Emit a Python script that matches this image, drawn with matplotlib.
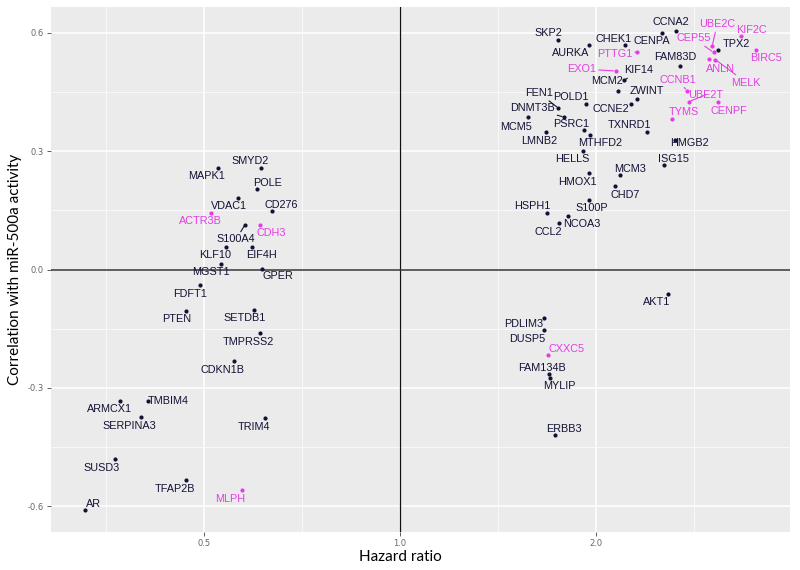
import numpy as np
import matplotlib
matplotlib.use("Agg")
import matplotlib.pyplot as plt
from matplotlib.ticker import FixedLocator, NullFormatter

# gene, hazard ratio, correlation with miR-500a activity
genes = ["SMYD2", "MAPK1", "POLE", "VDAC1", "CD276", "ACTR3B", "S100A4", "CDH3",
         "KLF10", "EIF4H", "MGST1", "GPER", "FDFT1", "PTEN", "SETDB1", "TMPRSS2",
         "CDKN1B", "ARMCX1", "TMBIM4", "SERPINA3", "TRIM4", "SUSD3", "TFAP2B", "MLPH", "AR",
         "SKP2", "AURKA", "CHEK1", "CENPA", "CCNA2", "PTTG1", "FAM83D", "EXO1", "KIF14",
         "MCM2", "ZWINT", "CCNE2", "POLD1", "FEN1", "DNMT3B", "MCM5", "PSRC1", "MTHFD2",
         "LMNB2", "TXNRD1", "HMGB2", "TYMS", "UBE2T", "CCNB1", "CENPF", "UBE2C", "CEP55",
         "TPX2", "ANLN", "MELK", "KIF2C", "BIRC5",
         "HELLS", "ISG15", "MCM3", "HMOX1", "CHD7", "S100P", "HSPH1", "NCOA3", "CCL2",
         "AKT1", "PDLIM3", "DUSP5", "CXXC5", "FAM134B", "MYLIP", "ERBB3"]
hazard = [0.612, 0.525, 0.603, 0.564, 0.635, 0.513, 0.578, 0.610,
          0.541, 0.592, 0.531, 0.613, 0.493, 0.469, 0.597, 0.610,
          0.555, 0.372, 0.410, 0.400, 0.620, 0.365, 0.469, 0.571, 0.328,
          1.749, 1.947, 2.218, 2.526, 2.651, 2.315, 2.689, 2.142, 2.208,
          2.164, 2.310, 2.264, 1.928, 1.749, 1.786, 1.571, 1.917, 1.960,
          1.676, 2.398, 2.645, 2.614, 2.776, 2.757, 3.076, 3.014, 3.030,
          3.082, 2.983, 3.047, 3.343, 3.522,
          1.912, 2.541, 2.179, 1.947, 2.139, 1.953, 1.680, 1.811, 1.757,
          2.580, 1.662, 1.665, 1.690, 1.692, 1.698, 1.730]
corr = [0.257, 0.258, 0.204, 0.180, 0.148, 0.143, 0.114, 0.113,
        0.058, 0.058, 0.013, 0.001, -0.040, -0.106, -0.103, -0.161,
        -0.232, -0.332, -0.332, -0.373, -0.376, -0.480, -0.532, -0.559, -0.609,
        0.581, 0.570, 0.570, 0.600, 0.603, 0.551, 0.516, 0.503, 0.479,
        0.453, 0.432, 0.419, 0.420, 0.409, 0.386, 0.387, 0.353, 0.341,
        0.348, 0.348, 0.328, 0.381, 0.425, 0.453, 0.425, 0.565, 0.550,
        0.557, 0.533, 0.532, 0.592, 0.557,
        0.299, 0.264, 0.240, 0.245, 0.212, 0.175, 0.144, 0.136, 0.118,
        -0.063, -0.124, -0.154, -0.216, -0.264, -0.275, -0.420]
highlighted = ["ACTR3B", "CDH3", "MLPH", "CXXC5", "EXO1", "PTTG1", "UBE2C", "KIF2C",
               "CEP55", "ANLN", "BIRC5", "MELK", "CCNB1", "UBE2T", "TYMS", "CENPF"]

# label placement (offset from the point in pixels, screen x right / y down)
offsets = {
    "SMYD2": (-11, -7), "MAPK1": (-11, 8), "POLE": (11, -6), "VDAC1": (-9, 8),
    "CD276": (10, -6), "ACTR3B": (-11, 8), "S100A4": (-9, 15), "CDH3": (11, 8),
    "KLF10": (-11, 8), "EIF4H": (10, 8), "MGST1": (-10, 8), "GPER": (16, 7),
    "FDFT1": (-10, 9), "PTEN": (-9, 8), "SETDB1": (-10, 8), "TMPRSS2": (-12, 9),
    "CDKN1B": (-11, 9), "ARMCX1": (-11, 8), "TMBIM4": (20, 0), "SERPINA3": (-12, 9),
    "TRIM4": (-11, 9), "SUSD3": (-13, 9), "TFAP2B": (-11, 10), "MLPH": (-11, 9),
    "AR": (9, -6),
    "SKP2": (-10, -7), "AURKA": (-18, 8), "CHEK1": (-12, -6), "CENPA": (-10, 8),
    "CCNA2": (-5, -9), "PTTG1": (-23, 2), "FAM83D": (-5, -9), "EXO1": (-34, -2),
    "KIF14": (15, -10), "MCM2": (-11, -10), "ZWINT": (10, -8), "CCNE2": (-20, 5),
    "POLD1": (-15, -7), "FEN1": (-19, -15), "DNMT3B": (-32, -9), "MCM5": (-12, 10),
    "PSRC1": (-13, -6), "MTHFD2": (10, 8), "LMNB2": (-7, 9), "TXNRD1": (-18, -7),
    "HMGB2": (14, 3), "TYMS": (12, -7), "UBE2T": (17, -7), "CCNB1": (-9, -11),
    "CENPF": (11, 9), "UBE2C": (5, -22), "CEP55": (-20, -14), "TPX2": (18, -6),
    "ANLN": (11, 10), "MELK": (31, 23), "KIF2C": (10, -6), "BIRC5": (10, 8),
    "HELLS": (-11, 8), "ISG15": (10, -6), "MCM3": (10, -6), "HMOX1": (-11, 9),
    "CHD7": (10, 9), "S100P": (2, 8), "HSPH1": (-14, -7), "NCOA3": (14, 8),
    "CCL2": (-11, 9),
    "AKT1": (-11, 8), "PDLIM3": (-20, 6), "DUSP5": (-17, 9), "CXXC5": (18, -6),
    "FAM134B": (-7, -6), "MYLIP": (10, 8), "ERBB3": (9, -6),
}
with_segment = ["S100A4", "PTTG1", "EXO1", "KIF14", "FEN1", "DNMT3B", "UBE2T",
                "CCNB1", "UBE2C", "CEP55", "MELK"]

navy = "#121236"
pink = "#e53de6"
label_font = ["Liberation Sans Narrow", "Liberation Sans", "DejaVu Sans"]

fig = plt.figure(figsize=(8, 5.7), dpi=100)
ax = fig.add_axes([51 / 800, 38 / 570, 739 / 800, 525 / 570])
ax.set_facecolor("#ebebeb")
ax.set_xscale("log", base=2)
ax.set_xlim(0.291, 3.97)
ax.set_ylim(-0.665, 0.665)

ax.xaxis.set_major_locator(FixedLocator([0.5, 1.0, 2.0]))
ax.xaxis.set_minor_locator(FixedLocator([2 ** -1.5, 2 ** -0.5, 2 ** 0.5, 2 ** 1.5]))
ax.xaxis.set_minor_formatter(NullFormatter())
ax.set_xticklabels(["0.5", "1.0", "2.0"])
ax.set_yticks([-0.6, -0.3, 0.0, 0.3, 0.6])
ax.set_yticklabels(["-0.6", "-0.3", "0.0", "0.3", "0.6"])
ax.set_yticks([-0.45, -0.15, 0.15, 0.45], minor=True)
ax.grid(True, which="major", color="white", lw=1.1)
ax.grid(True, which="minor", color="white", lw=0.5)
ax.set_axisbelow(True)
for s in ax.spines.values():
    s.set_visible(False)
ax.tick_params(which="major", length=3, width=0.6, color="#444444",
               labelsize=6, labelcolor="#666666", pad=2)
ax.tick_params(which="minor", length=0)

ax.axvline(1.0, color="#111111", lw=0.9, zorder=1)
ax.axhline(0.0, color="#333333", lw=1.1, zorder=1)

for g, x, y in zip(genes, hazard, corr):
    col = pink if g in highlighted else navy
    ax.scatter(x, y, s=9, color=col, zorder=3, linewidths=0)
    dx, dy = offsets[g]
    arrow = None
    if g in with_segment:
        arrow = dict(arrowstyle="-", color=col, lw=0.8, shrinkA=0, shrinkB=1.5)
    ax.annotate(g, (x, y), xytext=(dx, -dy), textcoords="offset pixels",
                ha="center", va="center", fontsize=7.8, color=col,
                family=label_font, arrowprops=arrow, zorder=4)

fig.text(400 / 800, 1 - 557 / 570, "Hazard ratio", ha="center", va="center",
         fontsize=11, family="Lato", color="black")
fig.text(15 / 800, 1 - 269 / 570, "Correlation with miR-500a activity",
         rotation=90, ha="center", va="center", fontsize=11, family="Lato", color="black")

fig.savefig("out.png", dpi=100)
